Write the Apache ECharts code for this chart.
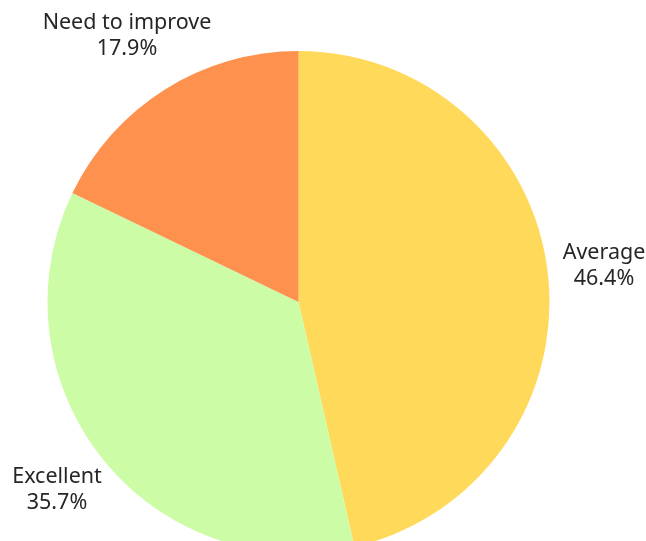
<!DOCTYPE html>
<html>
<head>
<meta charset="utf-8">
<script src="https://cdn.jsdelivr.net/npm/echarts@6/dist/echarts.min.js"></script>
<style>
  html, body { margin: 0; padding: 0; background: #ffffff; }
  #chart { width: 646px; height: 541px; }
</style>
</head>
<body>
<div id="chart"></div>
<script>
// Rating categories and response counts (share of 28 responses)
const categories = ['Average', 'Excellent', 'Need to improve'];
const counts = [13, 10, 5];
const sliceColors = ['#FFDA5A', '#CDFCA7', '#FE914D'];

// Where each label block is centred (px)
const labelCenters = [[604, 266], [57, 490], [127, 36]];

const chart = echarts.init(document.getElementById('chart'), null, { renderer: 'canvas' });

chart.setOption({
  backgroundColor: '#ffffff',
  animation: false,
  series: [{
    type: 'pie',
    center: [298.5, 302],
    radius: 251,
    startAngle: 90,
    clockwise: true,
    data: categories.map((name, i) => ({
      name: name,
      value: counts[i],
      itemStyle: { color: sliceColors[i] }
    })),
    itemStyle: { borderWidth: 0 },
    label: {
      show: true,
      position: 'inside',
      formatter: p => p.name + '\n' + p.percent.toFixed(1) + '%',
      fontFamily: 'Noto Sans',
      fontSize: 21.5,
      lineHeight: 26,
      color: '#262626',
      align: 'center',
      overflow: 'none'
    },
    percentPrecision: 1,
    labelLine: { show: false },
    labelLayout: function (params) {
      const c = labelCenters[params.dataIndex];
      return {
        x: c[0],
        y: c[1],
        align: 'center',
        verticalAlign: 'middle',
        hideOverlap: false
      };
    },
    emphasis: { disabled: true }
  }]
});
</script>
</body>
</html>
